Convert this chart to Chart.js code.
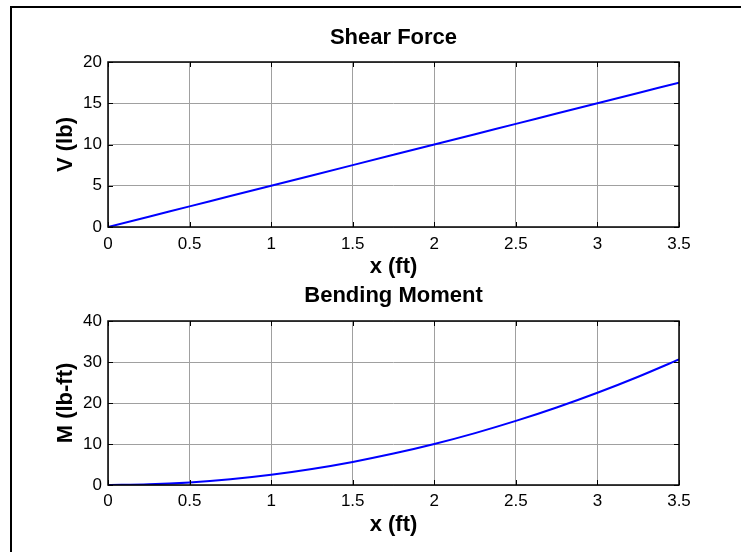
<!DOCTYPE html>
<html>
<head>
<meta charset="utf-8">
<script src="https://cdn.jsdelivr.net/npm/chart.js@4/dist/chart.umd.min.js"></script>
<style>
  html, body { margin:0; padding:0; background:#fff; overflow:hidden; }
  #wrap { position:relative; width:741px; height:552px; background:#fff; }
  #frame { position:absolute; left:10px; top:6px; width:800px; height:600px;
           border-left:2px solid #000; border-top:2px solid #000; box-sizing:border-box; }
  canvas { position:absolute; left:0; }
  #c1 { top:0; }
  #c2 { top:280px; }
</style>
</head>
<body>
<div id="wrap">
  <div id="frame"></div>
  <canvas id="c1" width="741" height="284"></canvas>
  <canvas id="c2" width="741" height="272"></canvas>
</div>
<script>
// ---- data ----
const xValues   = [0, 0.25, 0.5, 0.75, 1, 1.25, 1.5, 1.75, 2, 2.25, 2.5, 2.75, 3, 3.25, 3.5];
const shearV    = [0, 1.25, 2.5, 3.75, 5, 6.25, 7.5, 8.75, 10, 11.25, 12.5, 13.75, 15, 16.25, 17.5];
const momentM   = [0, 0.16, 0.63, 1.41, 2.5, 3.91, 5.63, 7.66, 10, 12.66, 15.63, 18.91, 22.5, 26.41, 30.63];
const xTickVals = [0, 0.5, 1, 1.5, 2, 2.5, 3, 3.5];
const vTickVals = [0, 5, 10, 15, 20];
const mTickVals = [0, 10, 20, 30, 40];
const title1 = 'Shear Force';
const title2 = 'Bending Moment';
const xLabel = 'x (ft)';
const vLabel = 'V (lb)';
const mLabel = 'M (lb-ft)';

const FONT = '"Liberation Sans", Arial, Helvetica, sans-serif';
Chart.defaults.font.family = FONT;
Chart.defaults.color = '#000';

const framePlugin = {
  id: 'frameTicks',
  afterDatasetsDraw(chart) {
    const { ctx, chartArea: a, scales: { x, y } } = chart;
    const L = 5;
    ctx.save();
    ctx.strokeStyle = '#000';
    ctx.lineWidth = 1;
    ctx.beginPath();
    x.ticks.forEach(t => {
      const px = Math.round(x.getPixelForValue(t.value)) + 0.5;
      ctx.moveTo(px, a.bottom); ctx.lineTo(px, a.bottom - L);
      ctx.moveTo(px, a.top); ctx.lineTo(px, a.top + L);
    });
    y.ticks.forEach(t => {
      const py = Math.round(y.getPixelForValue(t.value)) + 0.5;
      ctx.moveTo(a.left, py); ctx.lineTo(a.left + L, py);
      ctx.moveTo(a.right, py); ctx.lineTo(a.right - L, py);
    });
    ctx.stroke();
    ctx.lineWidth = 1.5;
    ctx.strokeRect(a.left, a.top, a.right - a.left, a.bottom - a.top);
    ctx.restore();
  }
};

function makeChart(id, yVals, yTicks, titleText, yTitle, opts) {
  const data = xValues.map((xv, i) => ({ x: xv, y: yVals[i] }));
  return new Chart(document.getElementById(id), {
    type: 'line',
    data: { datasets: [{
      data,
      borderColor: '#0000ff',
      borderWidth: 2,
      pointRadius: 0,
      fill: false,
      cubicInterpolationMode: 'monotone'
    }]},
    options: {
      responsive: false,
      animation: false,
      devicePixelRatio: 1,
      layout: { padding: { left: 0, right: 62, top: 0, bottom: 0 } },
      plugins: {
        legend: { display: false },
        tooltip: { enabled: false },
        title: {
          display: true,
          text: titleText,
          fullSize: false,
          color: '#000',
          font: { size: 22, weight: 'bold', family: FONT, lineHeight: 1.2 },
          padding: opts.titlePad
        }
      },
      scales: {
        x: {
          type: 'linear',
          min: xTickVals[0], max: xTickVals[xTickVals.length - 1],
          afterBuildTicks: s => { s.ticks = xTickVals.map(v => ({ value: v })); },
          afterFit: s => { s.height = opts.xHeight; },
          grid: { color: '#a0a0a0', lineWidth: 1, drawTicks: false },
          border: { display: false },
          ticks: { padding: opts.xTickPad, maxRotation: 0, autoSkip: false,
                   callback: v => String(v),
                   font: { size: 17, family: FONT }, color: '#000' },
          title: { display: true, text: xLabel, color: '#000',
                   font: { size: 22, weight: 'bold', family: FONT, lineHeight: 1.2 },
                   padding: { top: 0, bottom: opts.xTitlePadB } }
        },
        y: {
          type: 'linear',
          min: yTicks[0], max: yTicks[yTicks.length - 1],
          afterBuildTicks: s => { s.ticks = yTicks.map(v => ({ value: v })); },
          afterFit: s => { s.width = 108; },
          grid: { color: '#a0a0a0', lineWidth: 1, drawTicks: false },
          border: { display: false },
          ticks: { padding: 6, autoSkip: false,
                   callback: v => String(v),
                   font: { size: 17, family: FONT }, color: '#000' },
          title: { display: true, text: yTitle, color: '#000',
                   font: { size: 22, weight: 'bold', family: FONT, lineHeight: 1.2 },
                   padding: { top: 53, bottom: 0 } }
        }
      }
    },
    plugins: [framePlugin]
  });
}

makeChart('c1', shearV, vTickVals, title1, vLabel, {
  titlePad: { top: 25.2, bottom: 10.4 },
  xHeight: 57, xTickPad: 7, xTitlePadB: 3.4
});
makeChart('c2', momentM, mTickVals, title2, mLabel, {
  titlePad: { top: 3.2, bottom: 11.4 },
  xHeight: 67, xTickPad: 6, xTitlePadB: 13.4
});
</script>
</body>
</html>
